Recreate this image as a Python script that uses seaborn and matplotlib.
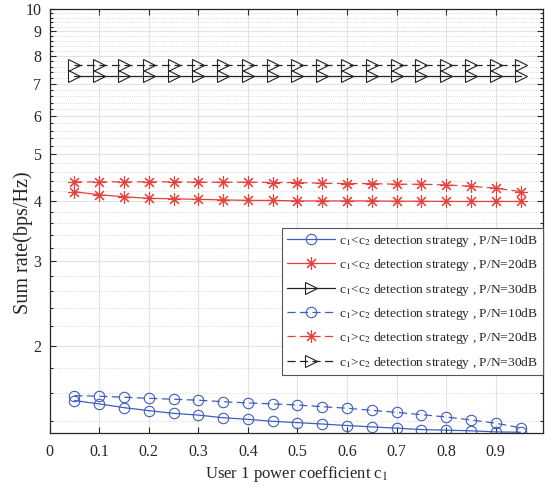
import numpy as np
import pandas as pd
import seaborn as sns
import matplotlib
matplotlib.use("Agg")
import matplotlib.pyplot as plt
from matplotlib.ticker import FixedLocator, NullFormatter

# power coefficient of user 1
c1 = [0.05, 0.1, 0.15, 0.2, 0.25, 0.3, 0.35, 0.4, 0.45, 0.5,
      0.55, 0.6, 0.65, 0.7, 0.75, 0.8, 0.85, 0.9, 0.95]

# c1 < c2 detection strategy
lt_10db = [1.540, 1.516, 1.489, 1.468, 1.449, 1.437, 1.419, 1.408, 1.395, 1.386,
           1.377, 1.367, 1.358, 1.350, 1.341, 1.337, 1.333, 1.326, 1.324]
lt_20db = [4.18, 4.12, 4.08, 4.05, 4.04, 4.03, 4.02, 4.01, 4.01, 4.00,
           4.00, 4.00, 4.00, 3.995, 3.995, 3.99, 3.99, 3.99, 3.99]
lt_30db = [7.26] * 19

# c1 > c2 detection strategy
gt_10db = [1.577, 1.573, 1.565, 1.557, 1.550, 1.543, 1.532, 1.523, 1.516, 1.508,
           1.496, 1.485, 1.470, 1.456, 1.440, 1.424, 1.404, 1.382, 1.353]
gt_20db = [4.381, 4.381, 4.381, 4.381, 4.381, 4.374, 4.374, 4.374, 4.367, 4.367,
           4.353, 4.346, 4.346, 4.332, 4.332, 4.318, 4.291, 4.250, 4.183]
gt_30db = [7.65] * 19

x_ticks = [0, 0.1, 0.2, 0.3, 0.4, 0.5, 0.6, 0.7, 0.8, 0.9]
y_ticks = [2, 3, 4, 5, 6, 7, 8, 9, 10]

sns.set_style("ticks")
plt.rcParams['font.family'] = ['Liberation Serif', 'DejaVu Serif']
plt.rcParams['mathtext.fontset'] = 'stix'

blue = '#3f5dbf'
red = '#e5413b'
black = '#222222'
asterisk = (8, 2, 0)

series = [
    ('c$_1$<c$_2$ detection strategy , P/N=10dB', lt_10db, blue, 'o', '-', 7.5),
    ('c$_1$<c$_2$ detection strategy , P/N=20dB', lt_20db, red, asterisk, '-', 9),
    ('c$_1$<c$_2$ detection strategy , P/N=30dB', lt_30db, black, '>', '-', 9),
    ('c$_1$>c$_2$ detection strategy , P/N=10dB', gt_10db, blue, 'o', '--', 7.5),
    ('c$_1$>c$_2$ detection strategy , P/N=20dB', gt_20db, red, asterisk, '--', 9),
    ('c$_1$>c$_2$ detection strategy , P/N=30dB', gt_30db, black, '>', '--', 9),
]

fig, ax = plt.subplots(figsize=(5.45, 4.86), dpi=100)
fig.subplots_adjust(left=0.091, right=0.996, top=0.981, bottom=0.11)

for label, vals, color, mk, ls, ms in series:
    df = pd.DataFrame({'c1': c1, 'rate': vals})
    sns.lineplot(data=df, x='c1', y='rate', ax=ax, color=color, linestyle=ls,
                 linewidth=0.9, marker=mk, markersize=ms,
                 markerfacecolor='none', markeredgecolor=color,
                 markeredgewidth=0.8, label=label)
    if ls == '--':
        ax.lines[-1].set_dashes([6.5, 3.5])

ax.set_yscale('log')
ax.set_xlim(0, 0.995)
ax.set_ylim(1.322, 10)
ax.set_xticks(x_ticks)
ax.set_xticklabels([('%g' % t) for t in x_ticks])
ax.yaxis.set_major_locator(FixedLocator(y_ticks))
ax.set_yticklabels([str(t) for t in y_ticks])
minor = [round(v, 1) for v in np.arange(1.4, 10.0, 0.2)
         if abs(v - round(v)) > 1e-6]
ax.yaxis.set_minor_locator(FixedLocator(minor))
ax.yaxis.set_minor_formatter(NullFormatter())
ax.tick_params(which='both', direction='in', top=True, right=True,
               labelsize=11.5, width=0.8)
ax.tick_params(which='major', length=4)
ax.tick_params(which='minor', length=2)
ax.tick_params(axis='x', which='major', pad=8)
ax.tick_params(axis='y', which='major', pad=6)

ax.grid(True, which='major', color='#e3e3e3', linewidth=0.8)
ax.grid(True, which='minor', axis='y', color='#d0d0d0', linestyle=':',
        linewidth=0.6)
ax.set_axisbelow(True)

ax.set_xlabel('User 1 power coefficient c$_1$', fontsize=12, labelpad=3)
ax.set_ylabel('Sum rate(bps/Hz)', fontsize=14.5)
ax.yaxis.set_label_coords(-0.034, 0.448)

leg = ax.legend(loc='upper right', bbox_to_anchor=(1.0, 0.483),
                borderaxespad=0, fontsize=9.7, fancybox=False, framealpha=1,
                edgecolor='#555555', handlelength=3.6, labelspacing=0.62,
                handletextpad=0.3, borderpad=0.35)
leg.get_frame().set_linewidth(0.8)

for s in ax.spines.values():
    s.set_linewidth(0.9)

fig.savefig('out.png', dpi=100)
